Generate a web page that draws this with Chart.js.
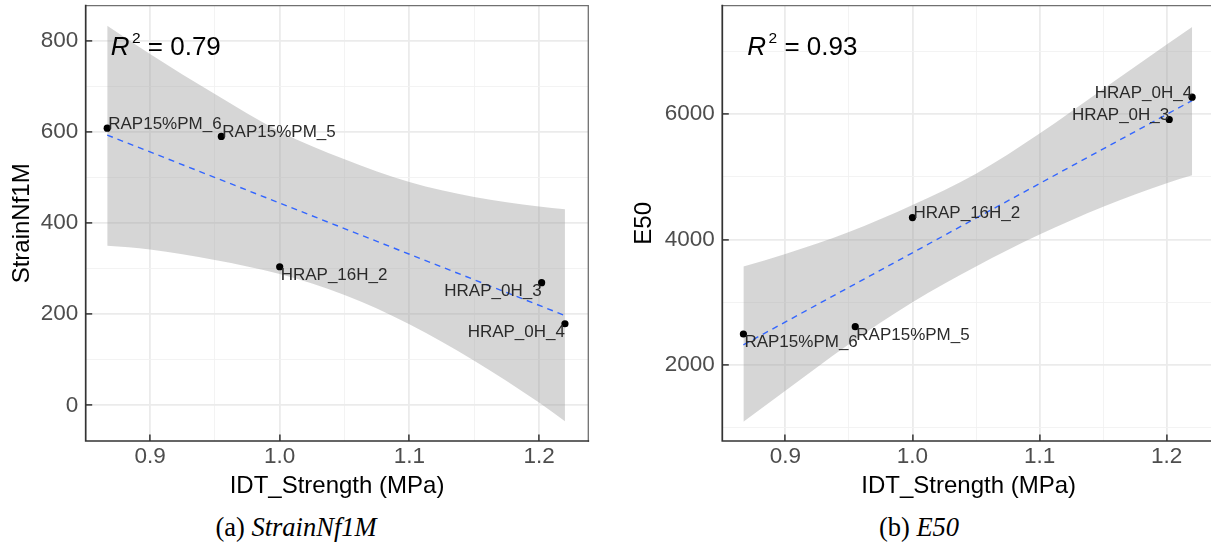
<!DOCTYPE html>
<html>
<head>
<meta charset="utf-8">
<script src="https://cdn.jsdelivr.net/npm/chart.js@4.4.1/dist/chart.umd.min.js"></script>
<style>
  html, body { margin: 0; padding: 0; background: #fff; overflow: hidden; }
  #page { position: relative; width: 1211px; height: 546px; overflow: hidden; background: #fff; }
  .panel { position: absolute; top: 0; height: 501px; }
  #panelA { left: 0; width: 605px; }
  #panelB { left: 605px; width: 620px; }
  .caption {
    position: absolute; top: 514px;
    font-family: "Liberation Serif", "Times New Roman", serif;
    font-size: 26.5px; line-height: 26px; color: #000;
    white-space: nowrap; transform: translateX(-50%);
  }
</style>
</head>
<body>
<div id="page">
  <div class="panel" id="panelA"><canvas id="chartA"></canvas></div>
  <div class="panel" id="panelB"><canvas id="chartB"></canvas></div>
  <div class="caption" style="left:296px">(a) <i>StrainNf1M</i></div>
  <div class="caption" style="left:919px">(b) <i>E50</i></div>
</div>
<script>
// samples (same IDT strength in both panels)
const sampleNames = ['RAP15%PM_6', 'RAP15%PM_5', 'HRAP_16H_2', 'HRAP_0H_3', 'HRAP_0H_4'];
const idtStrength = [0.867, 0.955, 1.0, 1.202, 1.22];
const strainNf1M = [608, 590, 304, 269, 179];
const e50 = [2494, 2611, 4351, 5915, 6271];

// fitted line ends and the shaded 95% band
const fitX = [0.867, 1.22];
const strainFit = [593, 197];
const e50Fit = [2322, 6218];
const bandX = [0.867, 0.9, 0.95, 1.0, 1.05, 1.1, 1.15, 1.2, 1.22];
const strainUpper = [833, 771, 683, 601, 540, 490, 457, 436, 430];
const strainLower = [350, 342, 319, 288, 242, 178, 98, 6, -35];
const e50Upper = [3570, 3770, 4120, 4550, 5050, 5690, 6400, 7110, 7390];
const e50Lower = [1096, 1590, 2330, 3000, 3570, 4080, 4525, 4900, 5025];

// axis breaks
const xMajor = [0.9, 1.0, 1.1, 1.2];
const xMinor = [0.85, 0.95, 1.05, 1.15];
const strainMajor = [0, 200, 400, 600, 800];
const strainMinor = [100, 300, 500, 700];
const e50Major = [2000, 4000, 6000];
const e50Minor = [1000, 3000, 5000, 7000];

const FONT = "'Liberation Sans', Arial, sans-serif";
Chart.defaults.font.family = FONT;

const isIn = (arr, v) => arr.some(m => Math.abs(m - v) < 1e-9);

function gridFor(major) {
    return {
        color: c => (c.tick && isIn(major, c.tick.value)) ? '#EBEBEB' : '#F2F2F2',
        lineWidth: c => (c.tick && isIn(major, c.tick.value)) ? 1.8 : 0.9,
        tickColor: c => (c.tick && isIn(major, c.tick.value)) ? '#333333' : 'rgba(0,0,0,0)',
        tickWidth: 1.5,
        tickLength: -6.5,
        drawTicks: true
    };
}

function decorPlugin(p) {
    return {
        id: 'decor',
        afterDatasetsDraw(chart) {
            const { ctx, chartArea: a, scales: { x, y } } = chart;
            ctx.save();

            // point labels
            ctx.font = '17px ' + FONT;
            ctx.fillStyle = '#2a2a2a';
            ctx.textBaseline = 'alphabetic';
            sampleNames.forEach((name, i) => {
                const px = x.getPixelForValue(idtStrength[i]);
                const py = y.getPixelForValue(p.values[i]);
                ctx.textAlign = p.hjust[i] ? 'right' : 'left';
                ctx.fillText(name, px + (p.hjust[i] ? 0 : 1), py + (p.vjust[i] ? 13.3 : 0.8));
            });

            // R^2 annotation
            const rx = a.left + 25, ry = a.top + 49.5;
            ctx.fillStyle = '#000';
            ctx.textAlign = 'left';
            ctx.font = 'italic 26px ' + FONT;
            ctx.fillText('R', rx, ry);
            let cx = rx + ctx.measureText('R').width + 2.5;
            ctx.font = '15.5px ' + FONT;
            ctx.fillText('2', cx, ry - 11.8);
            cx += ctx.measureText('2').width;
            ctx.font = '26px ' + FONT;
            ctx.fillText(' = ' + p.r2, cx, ry);

            // panel border: dark axis lines left/bottom, grey top/right
            ctx.lineCap = 'square';
            ctx.strokeStyle = '#707070';
            ctx.lineWidth = 1.3;
            ctx.beginPath();
            ctx.moveTo(a.left, a.top);
            ctx.lineTo(a.right, a.top);
            ctx.lineTo(a.right, a.bottom);
            ctx.stroke();
            ctx.strokeStyle = '#333333';
            ctx.lineWidth = 1.7;
            ctx.beginPath();
            ctx.moveTo(a.left, a.top);
            ctx.lineTo(a.left, a.bottom);
            ctx.lineTo(a.right, a.bottom);
            ctx.stroke();
            ctx.restore();
        }
    };
}

function makePanel(canvasId, p) {
    const pts = (xs, ys) => xs.map((v, i) => ({ x: v, y: ys[i] }));
    return new Chart(document.getElementById(canvasId), {
        type: 'scatter',
        data: {
            datasets: [
                {
                    type: 'scatter',
                    data: pts(idtStrength, p.values),
                    backgroundColor: '#000',
                    borderWidth: 0,
                    pointRadius: 3.6,
                    order: 1
                },
                {
                    type: 'line',
                    data: pts(fitX, p.fit),
                    borderColor: '#3366FF',
                    borderWidth: 1.4,
                    borderDash: [6, 5],
                    pointRadius: 0,
                    fill: false,
                    order: 2
                },
                {
                    type: 'line',
                    data: pts(bandX, p.upper),
                    borderColor: 'rgba(0,0,0,0)',
                    backgroundColor: 'rgba(153,153,153,0.4)',
                    pointRadius: 0,
                    cubicInterpolationMode: 'monotone',
                    fill: '+1',
                    order: 3
                },
                {
                    type: 'line',
                    data: pts(bandX, p.lower),
                    borderColor: 'rgba(0,0,0,0)',
                    pointRadius: 0,
                    cubicInterpolationMode: 'monotone',
                    fill: false,
                    order: 4
                }
            ]
        },
        options: {
            responsive: true,
            maintainAspectRatio: false,
            animation: false,
            events: [],
            layout: { padding: { left: 0, top: 5.7, right: p.padRight, bottom: 0 } },
            plugins: { legend: { display: false }, tooltip: { enabled: false } },
            scales: {
                x: {
                    type: 'linear',
                    position: 'bottom',
                    min: 0.8504,
                    max: 1.238,
                    afterBuildTicks: s => { s.ticks = xMajor.concat(xMinor).sort((a, b) => a - b).map(v => ({ value: v })); },
                    afterFit: s => { s.height = 60; s.paddingLeft = 0; s.paddingRight = 0; },
                    grid: gridFor(xMajor),
                    border: { display: false },
                    ticks: {
                        autoSkip: false,
                        maxRotation: 0,
                        minRotation: 0,
                        padding: 9,
                        color: '#4D4D4D',
                        font: { size: 22.5 },
                        callback: v => isIn(xMajor, v) ? v.toFixed(1) : ''
                    },
                    title: {
                        display: true,
                        text: 'IDT_Strength (MPa)',
                        color: '#000',
                        font: { size: 24 },
                        padding: { top: 0, bottom: 0 }
                    }
                },
                y: {
                    type: 'linear',
                    position: 'left',
                    min: p.yMin,
                    max: p.yMax,
                    afterBuildTicks: s => { s.ticks = p.major.concat(p.minor).sort((a, b) => a - b).map(v => ({ value: v })); },
                    afterFit: s => { s.width = p.yWidth; s.paddingTop = 0; s.paddingBottom = 0; },
                    grid: gridFor(p.major),
                    border: { display: false },
                    ticks: {
                        autoSkip: false,
                        padding: 14,
                        color: '#4D4D4D',
                        font: { size: 22.5 },
                        callback: v => isIn(p.major, v) ? String(v) : ''
                    },
                    title: {
                        display: true,
                        text: p.yTitle,
                        color: '#000',
                        font: { size: 24 },
                        padding: { top: p.yTitlePad, bottom: 0 }
                    }
                }
            }
        },
        plugins: [decorPlugin(p)]
    });
}

makePanel('chartA', {
    values: strainNf1M, fit: strainFit, upper: strainUpper, lower: strainLower,
    major: strainMajor, minor: strainMinor, yMin: -78.3, yMax: 876.8,
    yTitle: 'StrainNf1M', r2: '0.79',
    hjust: [0, 0, 0, 1, 1], vjust: [0, 0, 1, 1, 1],
    yWidth: 85.7, yTitlePad: 7.9, padRight: 16.7
});

makePanel('chartB', {
    values: e50, fit: e50Fit, upper: e50Upper, lower: e50Lower,
    major: e50Major, minor: e50Minor, yMin: 788, yMax: 7730,
    yTitle: 'E50', r2: '0.93',
    hjust: [0, 0, 0, 1, 1], vjust: [1, 1, 0, 0, 0],
    yWidth: 117.3, yTitlePad: 24.5, padRight: 10
});
</script>
</body>
</html>
